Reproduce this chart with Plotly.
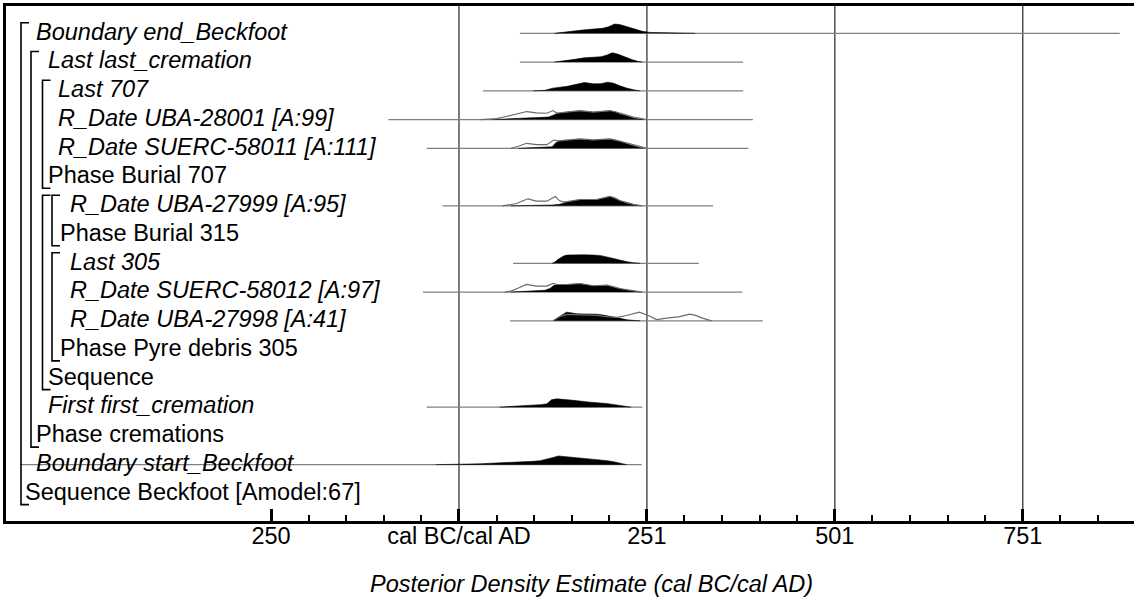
import plotly.graph_objects as go

# ---------------------------------------------------------------- axis setup
X_MIN, X_MAX = -601.6, 899.0            # calendar scale (1 = 1 AD, -249 = 250 BC)
MAJOR_TICKS = [-249, 1, 251, 501, 751]
MAJOR_LABELS = ["250", "cal BC/cal AD", "251", "501", "751"]
MINOR_TICKS = list(range(-249, 900, 50))
GRID_YEARS = [1, 251, 501, 751]
AXIS_TITLE = "Posterior Density Estimate (cal BC/cal AD)"

# ---------------------------------------------------------------- model rows
LABELS = [
    "Boundary end_Beckfoot",
    "Last last_cremation",
    "Last 707",
    "R_Date UBA-28001 [A:99]",
    "R_Date SUERC-58011 [A:111]",
    "Phase Burial 707",
    "R_Date UBA-27999 [A:95]",
    "Phase Burial 315",
    "Last 305",
    "R_Date SUERC-58012 [A:97]",
    "R_Date UBA-27998 [A:41]",
    "Phase Pyre debris 305",
    "Sequence",
    "First first_cremation",
    "Phase cremations",
    "Boundary start_Beckfoot",
    "Sequence Beckfoot [Amodel:67]",
]
# True for individual parameters (italic), False for grouping commands
IS_ITEM = [True, True, True, True, True, False, True, False, True, True, True,
           False, False, True, False, True, False]
# nesting level of the enclosing group
LEVEL = [0, 1, 2, 2, 2, 2, 3, 3, 3, 3, 3, 3, 2, 1, 1, 0, 0]
# group brackets: (level, first row, last row)
GROUPS = [(0, 0, 16), (1, 1, 14), (2, 2, 5), (2, 6, 12), (3, 6, 7), (3, 8, 11)]

# horizontal extent of each row's range line (cal years)
RANGE_START = {0: 82, 1: 82, 2: 33, 3: -93, 4: -42, 6: -21, 8: 73, 9: -47,
               10: 69, 13: -42, 15: -583}
RANGE_END = {0: 880, 1: 379, 2: 379, 3: 392, 4: 386, 6: 339, 8: 320, 9: 378,
             10: 405, 13: 245, 15: 244}

# posterior distributions (years, relative probability)
POST_YEARS = {
    0: [128, 140, 155, 165, 180, 192, 200, 208, 215, 225, 235, 245, 255, 275, 300, 315],
    1: [128, 140, 155, 168, 180, 190, 198, 205, 212, 222, 232, 240, 245],
    2: [100, 115, 126, 145, 160, 168, 180, 190, 199, 207, 215, 225, 235, 242],
    3: [45, 60, 80, 100, 120, 127, 131, 144, 162, 180, 190, 202, 210, 215, 225, 233, 246],
    4: [80, 110, 125, 129, 133, 144, 162, 178, 186, 202, 210, 215, 225, 233, 240, 246],
    6: [70, 100, 125, 135, 144, 155, 162, 175, 184, 192, 202, 210, 215, 225, 233, 242],
    8: [125, 128, 132, 136, 140, 145, 155, 166, 180, 190, 202, 215, 225, 233, 242],
    9: [70, 100, 115, 122, 127, 131, 144, 162, 172, 180, 190, 198, 207, 215, 225, 233, 242],
    10: [126, 129, 135, 140, 144, 150, 158, 170, 184, 193, 202, 215, 225, 233, 242],
    13: [55, 70, 82, 100, 110, 118, 124, 131, 140, 153, 175, 197, 215, 226, 230],
    15: [-30, 0, 30, 51, 70, 87, 100, 109, 122, 128, 133, 144, 157, 171, 184, 198, 207, 215, 224],
}
POST_PROB = {
    0: [0, .08, .20, .32, .43, .50, .65, .93, .87, .65, .40, .20, .09, .05, .03, 0],
    1: [0, .10, .27, .43, .48, .53, .70, .93, .80, .50, .22, .05, 0],
    2: [0, .05, .27, .45, .70, .83, .70, .72, .87, .75, .50, .25, .08, 0],
    3: [0, .05, .10, .15, .25, .45, .60, .73, .87, .73, .78, .87, .75, .57, .35, .17, 0],
    4: [0, .05, .15, .50, .70, .80, .90, .80, .82, .90, .80, .67, .43, .27, .12, 0],
    6: [0, .03, .08, .15, .37, .53, .60, .62, .60, .75, .93, .75, .50, .27, .13, 0],
    8: [0, .10, .35, .57, .73, .83, .87, .85, .83, .77, .57, .30, .15, .07, 0],
    9: [0, .07, .18, .37, .65, .73, .73, .83, .72, .60, .63, .67, .52, .33, .18, .10, 0],
    10: [0, .15, .47, .75, .87, .80, .70, .68, .67, .58, .43, .20, .10, .05, 0],
    13: [0, .06, .15, .22, .25, .33, .73, .83, .78, .68, .50, .37, .17, .03, 0],
    15: [0, .03, .08, .17, .22, .27, .33, .40, .60, .75, .87, .80, .70, .60, .50, .40, .28, .13, 0],
}

# unmodelled likelihoods of the radiocarbon dates (years, relative probability)
LIKE_YEARS = {
    3: [30, 45, 51, 64, 82, 91, 104, 118, 126, 131, 144, 162, 180, 202, 215, 233, 251],
    4: [70, 80, 91, 104, 118, 127, 133, 144, 162, 180, 202, 215, 233, 251],
    6: [59, 70, 78, 86, 93, 100, 104, 118, 124, 129, 135, 140, 145, 162, 184, 202, 215, 233, 245],
    9: [62, 72, 80, 91, 104, 118, 126, 131, 144, 162, 180, 198, 215, 233, 245],
    10: [126, 130, 136, 145, 160, 184, 200, 212, 224, 233, 241, 253, 264, 277, 293, 308, 316, 324, 337],
}
LIKE_PROB = {
    3: [0, .05, .10, .30, .63, .80, .67, .63, .90, .65, .75, .90, .75, .90, .65, .25, 0],
    4: [0, .20, .50, .37, .37, .83, .75, .85, .95, .85, .95, .72, .35, 0],
    6: [0, .10, .23, .50, .70, .55, .47, .47, .70, .93, .50, .40, .42, .63, .63, .95, .53, .15, 0],
    9: [0, .15, .40, .77, .60, .60, .87, .78, .76, .86, .63, .70, .36, .12, 0],
    10: [0, .15, .45, .65, .60, .55, .40, .35, .53, .75, .87, .53, .13, .27, .40, .67, .55, .30, 0],
}

# ---------------------------------------------------------------- geometry (pixels / rows)
ROW_PX = 28.75                 # vertical pitch of the rows
PROB_SCALE = 10.0 / ROW_PX     # row units per unit of relative probability
Y_TOP, Y_BOTTOM = -0.95, 16.96
PLOT_LEFT = 6
BRACKET_X = [21, 31, 42.5, 52]
GROUP_LABEL_X = [25, 36, 47.5, 60]
ITEM_LABEL_X = [36, 47.5, 58, 70]
FONT = "Liberation Sans, Arial, Helvetica, sans-serif"
FONT_SIZE = 23.5

fig = go.Figure()

# range lines
for r in RANGE_START:
    fig.add_trace(go.Scatter(
        x=[RANGE_START[r], RANGE_END[r]], y=[r, r], mode="lines",
        line=dict(color="#808080", width=1.2), hoverinfo="skip"))

# filled posteriors
for r, yrs in POST_YEARS.items():
    fig.add_trace(go.Scatter(
        x=yrs, y=[r - p * PROB_SCALE for p in POST_PROB[r]], mode="lines",
        fill="toself", fillcolor="black", line=dict(color="black", width=0.6),
        hoverinfo="skip"))

# likelihood outlines
for r, yrs in LIKE_YEARS.items():
    fig.add_trace(go.Scatter(
        x=yrs, y=[r - p * PROB_SCALE for p in LIKE_PROB[r]], mode="lines",
        line=dict(color="#6a6a6a", width=1.1), hoverinfo="skip"))

shapes = []
# vertical reference lines
for g in GRID_YEARS:
    shapes.append(dict(type="line", xref="x", yref="paper", x0=g, x1=g, y0=0, y1=1,
                       line=dict(color="#444444", width=1.4), layer="below"))
# group brackets
for lev, r0, r1 in GROUPS:
    a = BRACKET_X[lev] - PLOT_LEFT
    y0, y1 = r0 - 0.37, r1 + 0.39
    shapes.append(dict(
        type="path", xref="paper", yref="y", xsizemode="pixel", xanchor=0,
        path=f"M {a + 8},{y0} L {a},{y0} L {a},{y1} L {a + 8},{y1}",
        line=dict(color="black", width=1.6)))

annotations = []
for r, text in enumerate(LABELS):
    if IS_ITEM[r]:
        xpx = ITEM_LABEL_X[LEVEL[r]]
        txt = f"<i>{text}</i>"
    else:
        xpx = GROUP_LABEL_X[LEVEL[r]]
        txt = text
    annotations.append(dict(
        text=txt, xref="paper", yref="y", x=0, y=r - 0.06, xanchor="left",
        yanchor="middle", xshift=xpx - PLOT_LEFT, showarrow=False,
        borderpad=0, borderwidth=0,
        font=dict(family=FONT, size=FONT_SIZE, color="black")))

annotations.append(dict(
    text=f"<i>{AXIS_TITLE}</i>", xref="paper", yref="paper", x=0.5195, y=-0.1223,
    xanchor="center", yanchor="middle", showarrow=False,
    font=dict(family=FONT, size=FONT_SIZE, color="black")))

fig.update_layout(
    width=1134, height=601,
    margin=dict(l=PLOT_LEFT, r=0, t=6, b=80),
    plot_bgcolor="white", paper_bgcolor="white",
    showlegend=False,
    font=dict(family=FONT, size=FONT_SIZE, color="black"),
    shapes=shapes, annotations=annotations,
    xaxis=dict(
        range=[X_MIN, X_MAX], tickvals=MAJOR_TICKS, ticktext=MAJOR_LABELS,
        ticks="inside", ticklen=12, tickwidth=2.5, tickcolor="black",
        ticklabelstandoff=-8,
        tickfont=dict(family=FONT, size=FONT_SIZE, color="black"),
        showgrid=False, zeroline=False, showline=True, linecolor="black",
        linewidth=3, mirror=True, fixedrange=True,
        minor=dict(tickvals=MINOR_TICKS, ticks="inside", ticklen=6, tickwidth=1.6,
                   tickcolor="black", showgrid=False)),
    yaxis=dict(
        range=[Y_BOTTOM, Y_TOP], showticklabels=False, ticks="", showgrid=False,
        zeroline=False, showline=True, linecolor="black", linewidth=3,
        fixedrange=True),
)

fig.write_html("out.html")
